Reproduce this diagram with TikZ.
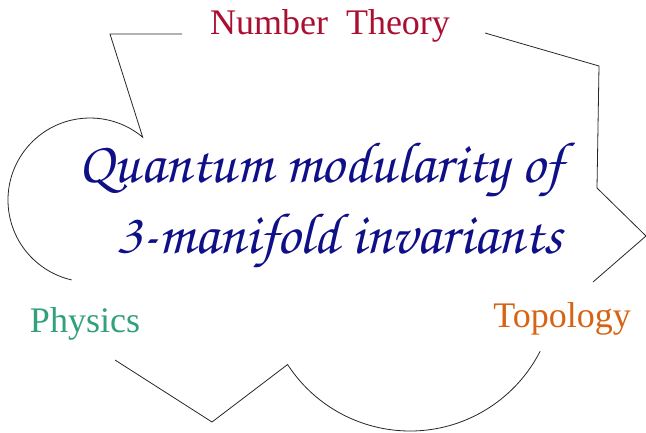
\documentclass[tikz,border=0pt]{standalone}
\usepackage{fontspec}
\setmainfont{Liberation Serif}
\newfontfamily\handfont{TeX Gyre Chorus}
\definecolor{ntred}{RGB}{170,15,50}
\definecolor{phgreen}{RGB}{50,160,125}
\definecolor{toporange}{RGB}{215,100,20}
\definecolor{inkblue}{RGB}{15,15,135}
\tikzset{
  field/.style={font=\fontsize{36}{42}\selectfont, inner sep=0pt, anchor=base},
  hand/.style={font=\handfont\fontsize{58}{66}\selectfont, text=inkblue, inner sep=0pt, anchor=base},
  outline/.style={line width=0.8pt, black!85},
}
\begin{document}
\begin{tikzpicture}[x=1pt,y=-1pt]
        \useasboundingbox (0,0) rectangle (646,432);

        % Labels
        \node[field, text=ntred] (nt) at (330,34) {Number\ \ Theory};
        \node[field, text=phgreen] (ph) at (85,332) {Physics};
        \node[field, text=toporange] (topo) at (562,327) {Topology};

        % Title
        \node[hand] (line1) at (321,182) {Quantum modularity of};
        \node[hand] (line2) at (339,253) {3-manifold invariants};

        % Corners
        \coordinate (a1) at (182,34);
        \coordinate (a2) at (110,34);
        \coordinate (a3) at (142.7,137.2);
        \coordinate (b1) at (115,360);
        \coordinate (b2) at (212,422);
        \coordinate (b3) at (287.6,364.5);
        \coordinate (c1) at (593,282);
        \coordinate (c2) at (646,236);
        \coordinate (c3) at (597,188);
        \coordinate (c4) at (599,66);
        \coordinate (c5) at (485,33);

        % Outline
        \draw[outline] (a1) -- (a2) -- (a3) arc[start angle=50, end angle=257, radius=82pt];
        \draw[outline] (b1) -- (b2) -- (b3) arc[start angle=213, end angle=333, radius=146pt];
        \draw[outline] (c1) -- (c2) -- (c3) -- (c4) -- (c5);
\end{tikzpicture}
\end{document}
